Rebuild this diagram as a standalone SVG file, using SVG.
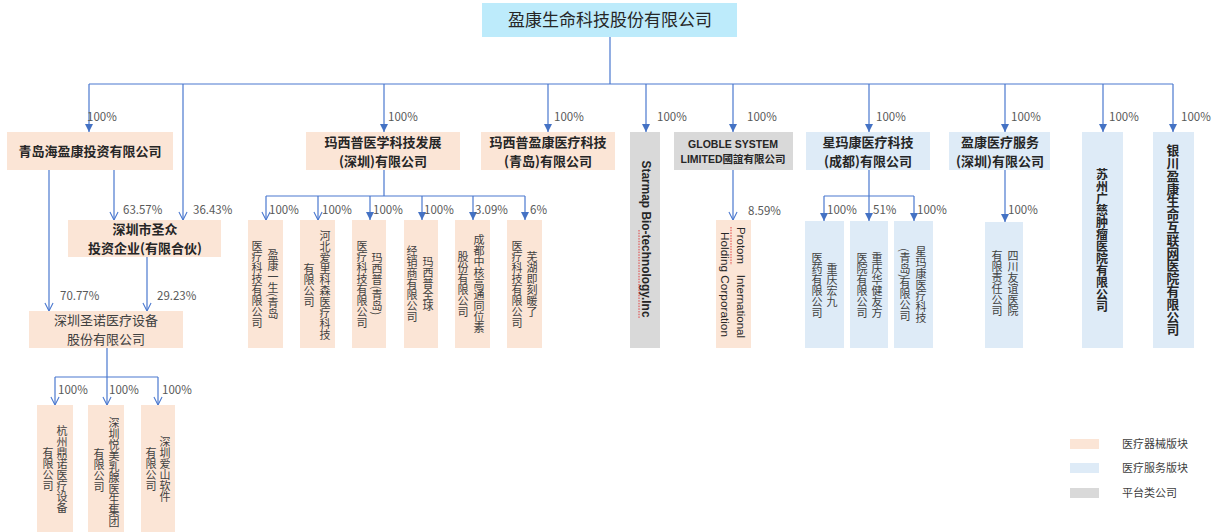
<svg xmlns="http://www.w3.org/2000/svg" width="1216" height="532" viewBox="0 0 1216 532">
<defs>
<style>
.bg{fill:#ffffff}
.peach{fill:#FBE5D6}
.blue{fill:#DEEBF7}
.gray{fill:#D9D9D9}
.root{fill:#BDEBFB}
.t{font-family:"Noto Sans CJK SC","Liberation Sans",sans-serif;fill:#262626;text-anchor:middle}
.b{font-weight:bold;font-size:13px}
.n{font-size:13px;fill:#404040}
.v{font-family:"Noto Sans CJK SC","Liberation Sans",sans-serif;fill:#404040;font-size:11px;writing-mode:vertical-rl;text-anchor:middle}
.vb{font-family:"Noto Sans CJK SC","Liberation Sans",sans-serif;fill:#262626;font-weight:bold;writing-mode:vertical-rl;text-anchor:middle}
.lat{font-family:"Liberation Sans","Noto Sans CJK SC",sans-serif;fill:#262626}
.pct{font-family:"Noto Sans CJK SC","Liberation Sans",sans-serif;font-size:11.5px;fill:#595959}
.lg{font-family:"Noto Sans CJK SC",sans-serif;font-size:11px;fill:#404040}
.ln{fill:none;stroke:#4A78CF;stroke-width:1.2}
.af{marker-end:url(#fa)}
.ac{marker-end:url(#ca)}
.sq{fill:none;stroke:#E04040;stroke-width:1;stroke-dasharray:1.5 1.2}
</style>
<marker id="fa" viewBox="0 0 10 10" refX="10" refY="5" markerWidth="8" markerHeight="8" markerUnits="userSpaceOnUse" orient="auto">
<path d="M0,0 L10,5 L0,10 z" fill="#4472C4"/>
</marker>
<marker id="ca" viewBox="0 0 10 10" refX="9.5" refY="5" markerWidth="9" markerHeight="10" markerUnits="userSpaceOnUse" orient="auto">
<path d="M0.5,0.5 L9.5,5 L0.5,9.5" fill="none" stroke="#4A78CF" stroke-width="1.2"/>
</marker>
</defs>
<rect class="bg" x="0" y="0" width="1216" height="532"/>

<g id="connectors">
<path class="ln" d="M610 37 V84 M89 84 H1173"/>
<path class="ln af" d="M89 84 V132"/>
<path class="ln ac" d="M183 84 V220"/>
<path class="ln af" d="M384 84 V132"/>
<path class="ln af" d="M548 84 V132"/>
<path class="ln af" d="M646 84 V132"/>
<path class="ln af" d="M733 84 V132"/>
<path class="ln af" d="M869 84 V132"/>
<path class="ln af" d="M1005 84 V132"/>
<path class="ln af" d="M1103 84 V132"/>
<path class="ln af" d="M1173 84 V132"/>
<path class="ln ac" d="M49 170 V311"/>
<path class="ln ac" d="M114 170 V220"/>
<path class="ln ac" d="M147 257 V311"/>
<path class="ln" d="M107 348 V377 M55 377 H158"/>
<path class="ln ac" d="M55 377 V405"/>
<path class="ln ac" d="M107 377 V405"/>
<path class="ln ac" d="M158 377 V405"/>
<path class="ln" d="M384 170 V196 M266 196 H525"/>
<path class="ln ac" d="M266 196 V220"/>
<path class="ln ac" d="M318 196 V220"/>
<path class="ln af" d="M370 196 V220"/>
<path class="ln af" d="M422 196 V220"/>
<path class="ln af" d="M473 196 V220"/>
<path class="ln af" d="M525 196 V220"/>
<path class="ln ac" d="M733 170 V220"/>
<path class="ln" d="M869 170 V196 M824 196 H914"/>
<path class="ln af" d="M824 196 V221"/>
<path class="ln af" d="M869 196 V221"/>
<path class="ln af" d="M914 196 V221"/>
<path class="ln af" d="M1005 170 V222"/>
</g>

<g id="labels">
<text class="pct" x="87" y="121">100%</text>
<text class="pct" x="388" y="121">100%</text>
<text class="pct" x="554" y="121">100%</text>
<text class="pct" x="657" y="121">100%</text>
<text class="pct" x="747" y="121">100%</text>
<text class="pct" x="876" y="121">100%</text>
<text class="pct" x="1011" y="121">100%</text>
<text class="pct" x="1109" y="121">100%</text>
<text class="pct" x="1181" y="121">100%</text>
<text class="pct" x="123" y="214">63.57%</text>
<text class="pct" x="193" y="214">36.43%</text>
<text class="pct" x="60" y="300">70.77%</text>
<text class="pct" x="157" y="300">29.23%</text>
<text class="pct" x="58" y="394">100%</text>
<text class="pct" x="109" y="394">100%</text>
<text class="pct" x="162" y="394">100%</text>
<text class="pct" x="269" y="214">100%</text>
<text class="pct" x="322" y="214">100%</text>
<text class="pct" x="373" y="214">100%</text>
<text class="pct" x="424" y="214">100%</text>
<text class="pct" x="475" y="214">3.09%</text>
<text class="pct" x="530" y="214">6%</text>
<text class="pct" x="748" y="215">8.59%</text>
<text class="pct" x="827" y="214">100%</text>
<text class="pct" x="873" y="214">51%</text>
<text class="pct" x="917" y="214">100%</text>
<text class="pct" x="1008" y="214">100%</text>
</g>

<g id="n-root">
<rect class="root" x="482" y="3" width="255" height="34"/>
<text class="t" x="610" y="26" font-size="17">盈康生命科技股份有限公司</text>
</g>

<g id="n-qdh">
<rect class="peach" x="7" y="132" width="166" height="38"/>
<text class="t b" x="90" y="156">青岛海盈康投资有限公司</text>
</g>
<g id="n-szsz">
<rect class="peach" x="68" y="220" width="153" height="37"/>
<text class="t b"><tspan x="145" y="234">深圳市圣众</tspan><tspan x="145" y="253">投资企业(有限合伙)</tspan></text>
</g>
<g id="n-szsn">
<rect class="peach" x="29" y="311" width="154" height="37"/>
<text class="t n"><tspan x="106" y="325">深圳圣诺医疗设备</tspan><tspan x="106" y="344">股份有限公司</tspan></text>
</g>
<g id="n-hzdn">
<rect class="peach" x="37" y="405" width="36" height="127"/>
<text class="v" x="62" y="469">杭州鼎诺医疗设备</text>
<text class="v" x="48" y="469">有限公司</text>
</g>
<g id="n-szym">
<rect class="peach" x="88" y="405" width="36" height="127"/>
<text class="v" x="114" y="472">深圳悦美乳腺医生集团</text>
<text class="v" x="99" y="470">有限公司</text>
</g>
<g id="n-szas">
<rect class="peach" x="141" y="405" width="34" height="127"/>
<text class="v" x="165" y="469">深圳爱山软件</text>
<text class="v" x="151" y="469">有限公司</text>
</g>

<g id="n-mxpsz">
<rect class="peach" x="306" y="132" width="154" height="38"/>
<text class="t b"><tspan x="383" y="146.5">玛西普医学科技发展</tspan><tspan x="383" y="165.5">(深圳)有限公司</tspan></text>
</g>
<g id="n-mxpqd">
<rect class="peach" x="481" y="132" width="134" height="38"/>
<text class="t b"><tspan x="548" y="146.5">玛西普盈康医疗科技</tspan><tspan x="548" y="165.5">(青岛)有限公司</tspan></text>
</g>
<g id="n-ykys">
<rect class="peach" x="248" y="220" width="35" height="128"/>
<text class="v" x="273" y="284">盈康一生(青岛</text>
<text class="v" x="257" y="284">医疗科技有限公司</text>
</g>
<g id="n-hbal">
<rect class="peach" x="300" y="220" width="35" height="128"/>
<text class="v" x="325" y="285">河北爱里科森医疗科技</text>
<text class="v" x="309" y="285">有限公司</text>
</g>
<g id="n-mxpqd2">
<rect class="peach" x="352" y="220" width="34" height="128"/>
<text class="v" x="377" y="284">玛西普(青岛)</text>
<text class="v" x="362" y="284">医疗科技有限公司</text>
</g>
<g id="n-mxpqq">
<rect class="peach" x="404" y="220" width="34" height="128"/>
<text class="v" x="428" y="284">玛西普全球</text>
<text class="v" x="412" y="284">经销商有限公司</text>
</g>
<g id="n-cdzh">
<rect class="peach" x="455" y="220" width="35" height="128"/>
<text class="v" x="479" y="284">成都中核高通同位素</text>
<text class="v" x="463" y="284">股份有限公司</text>
</g>
<g id="n-whjk">
<rect class="peach" x="507" y="220" width="35" height="128"/>
<text class="v" x="532" y="284">芜湖即刻暖了</text>
<text class="v" x="517" y="284">医疗科技有限公司</text>
</g>

<g id="n-starmap">
<rect class="gray" x="630" y="132" width="30" height="216"/>
<g transform="translate(646,239) rotate(90)">
<text class="lat" x="0" y="4" font-size="12" font-weight="bold" text-anchor="middle" textLength="157" lengthAdjust="spacingAndGlyphs">Starmap Bio-technology.Inc</text>
<path class="sq" d="M-9 7 H79"/>
</g>
</g>
<g id="n-globle">
<rect class="gray" x="674" y="132" width="119" height="38"/>
<text class="lat" font-size="10.5" font-weight="bold" text-anchor="middle"><tspan x="733" y="148">GLOBLE SYSTEM</tspan><tspan x="733" y="163">LIMITED國誼有限公司</tspan></text>
</g>
<g id="n-protom">
<rect class="peach" x="716" y="220" width="35" height="128"/>
<g transform="translate(733,283) rotate(90)">
<text class="lat" y="-4" font-size="11.5" fill="#404040"><tspan x="-56" text-anchor="start">Protom</tspan><tspan x="55" text-anchor="end">International</tspan></text>
<text class="lat" x="-51" y="12" font-size="11.5" fill="#404040" textLength="105" lengthAdjust="spacingAndGlyphs">Holding Corporation</text>
<path class="sq" d="M-56 2 H-18"/>
</g>
</g>

<g id="n-xmk">
<rect class="blue" x="806" y="132" width="124" height="38"/>
<text class="t b"><tspan x="868" y="146.5">星玛康医疗科技</tspan><tspan x="868" y="165.5">(成都)有限公司</tspan></text>
</g>
<g id="n-cqhj">
<rect class="blue" x="805" y="221" width="39" height="127"/>
<text class="v" x="832" y="285">重庆宏九</text>
<text class="v" x="817" y="285">医药有限公司</text>
</g>
<g id="n-cqhjyf">
<rect class="blue" x="850" y="221" width="38" height="127"/>
<text class="v" x="877" y="285">重庆华健友方</text>
<text class="v" x="862" y="285">医院有限公司</text>
</g>
<g id="n-xmkqd">
<rect class="blue" x="894" y="221" width="39" height="127"/>
<text class="v" x="921" y="285">星玛康医疗科技</text>
<text class="v" x="905" y="285">(青岛)有限公司</text>
</g>
<g id="n-ykylfw">
<rect class="blue" x="949" y="132" width="101" height="38"/>
<text class="t b"><tspan x="1000" y="146.5">盈康医疗服务</tspan><tspan x="1000" y="165.5">(深圳)有限公司</tspan></text>
</g>
<g id="n-scyy">
<rect class="blue" x="985" y="222" width="38" height="126"/>
<text class="v" x="1013" y="283">四川友谊医院</text>
<text class="v" x="997" y="283">有限责任公司</text>
</g>
<g id="n-szgc">
<rect class="blue" x="1082" y="132" width="41" height="216"/>
<text class="vb" x="1102" y="240" font-size="12">苏州广慈肿瘤医院有限公司</text>
</g>
<g id="n-ycyk">
<rect class="blue" x="1153" y="132" width="41" height="216"/>
<text class="vb" x="1173" y="240" font-size="12.8">银川盈康生命互联网医院有限公司</text>
</g>

<g id="legend">
<rect class="peach" x="1070" y="439" width="29" height="10"/>
<text class="lg" x="1122" y="448">医疗器械版块</text>
<rect class="blue" x="1070" y="463" width="29" height="10"/>
<text class="lg" x="1122" y="472">医疗服务版块</text>
<rect class="gray" x="1070" y="488" width="29" height="10"/>
<text class="lg" x="1122" y="497">平台类公司</text>
</g>
</svg>
